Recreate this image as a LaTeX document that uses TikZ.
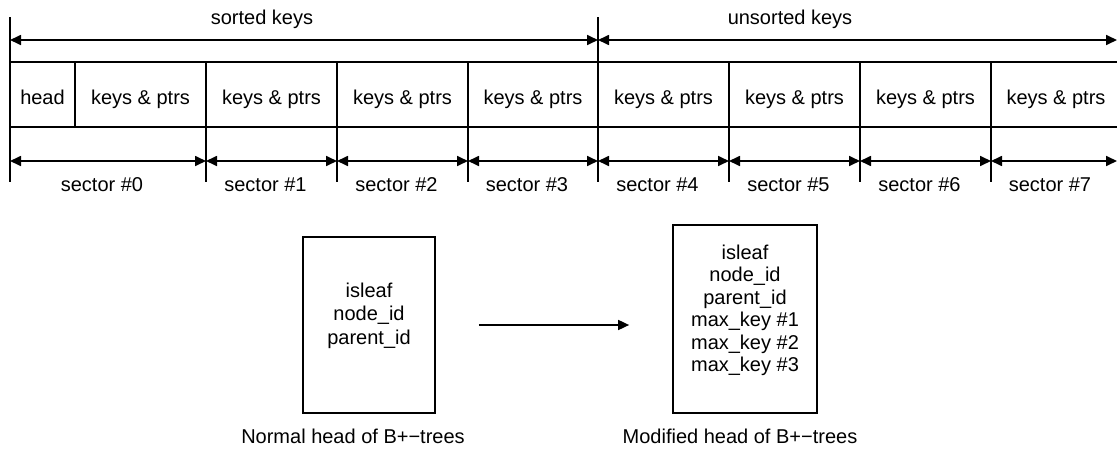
\documentclass[tikz,border=0pt]{standalone}
\usepackage{fontspec}
\setmainfont{Liberation Sans}
\usetikzlibrary{arrows.meta,positioning}

\begin{document}
\begin{tikzpicture}[x=1pt, y=-1pt, line width=1.7pt,
		every node/.style={inner sep=0pt, font=\fontsize{20}{24}\selectfont},
		span/.style={{Triangle[length=11pt,width=10pt]}-{Triangle[length=11pt,width=10pt]}},
		txt/.style={anchor=base},
		headbox/.style={draw, minimum width=132pt, minimum height=176pt},
		fields/.style={align=center, font=\fontsize{20}{23.5}\selectfont}]
			\useasboundingbox (0,0) rectangle (1117,450);

			% Draw the node page
			\draw (10,62) -- (1117,62);
			\draw (10,127) -- (1117,127);
			\draw (75,62) -- (75,127);
			\node[txt] (head) at (42.5,104) {head};

			% Draw the long dividers and the key ranges
			\draw (10,17) -- (10,182);
			\draw (598,17) -- (598,182);
			\coordinate (k0) at (10,40);
			\coordinate (k1) at (598,40);
			\coordinate (k2) at (1117,40);
			\draw[span] (k0) -- (k1);
			\draw[span] (k1) -- (k2);
			\node[txt] (sorted) at (262,24) {sorted keys};
			\node[txt] (unsorted) at (790,24) {unsorted keys};

			% Draw the sector dividers
			\foreach \x in {206,337,468,729,860,991}
				\draw (\x,62) -- (\x,182);

			% Draw the entries of each sector
			\foreach \a/\b [count=\i] in {75/206,206/337,337/468,468/598,598/729,729/860,860/991,991/1121}
				\node[txt] (kp\i) at ({(\a+\b)/2},104) {keys \& ptrs};

			% Draw the sector arrows
			\foreach \x [count=\i from 0] in {10,206,337,468,598,729,860,991,1117}
				\coordinate (d\i) at (\x,161);
			\foreach \i [evaluate=\i as \j using int(\i+1)] in {0,...,7}
				\draw[span] (d\i) -- (d\j);

			\foreach \a/\b [count=\i from 0] in {10/206,206/337,337/468,468/598,598/729,729/860,860/991,991/1121}
				\node[txt] (sec\i) at ({(\a+\b)/2-6},191) {sector \#\i};

			% Draw the two heads
			\node[headbox] (normal) at (369,325) {};
			\node[fields, below=46pt of normal.north] (normalf) {isleaf\\node\_id\\parent\_id};
			\node[txt] (normalc) at (353,443) {Normal head of B+−trees};

			\node[headbox, minimum width=144pt, minimum height=188pt] (modified) at (745,319) {};
			\node[fields, font=\fontsize{20}{22.4}\selectfont, below=20pt of modified.north] (modifiedf)
				{isleaf\\node\_id\\parent\_id\\max\_key \#1\\max\_key \#2\\max\_key \#3};
			\node[txt] (modifiedc) at (740,443) {Modified head of B+−trees};

			\draw[-{Triangle[length=11pt,width=10pt]}, shorten <=43pt, shorten >=43pt]
				(normal) -- (normal -| modified.west);

		\end{tikzpicture}
\end{document}
